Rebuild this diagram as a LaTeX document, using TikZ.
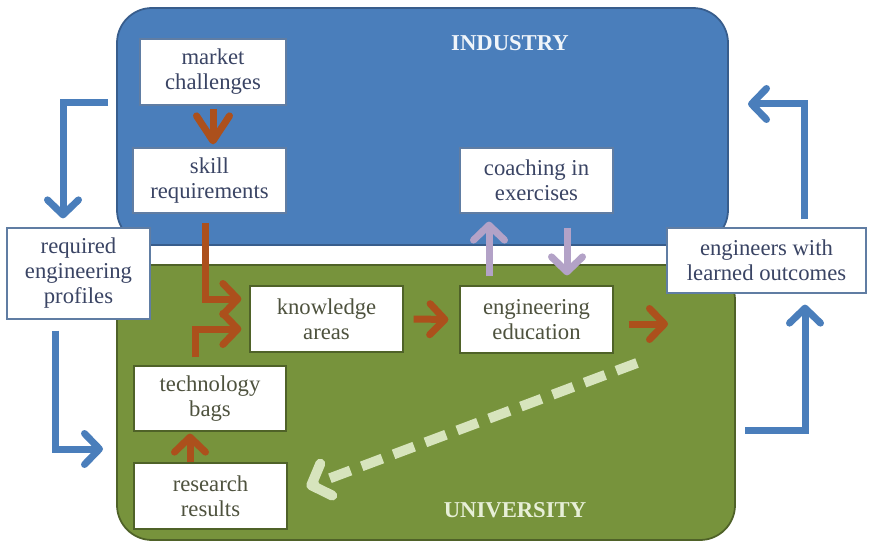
\documentclass[tikz,border=0pt]{standalone}
\usepackage{fontspec}
\setmainfont{Liberation Serif}
\usepackage{tikz}
\usetikzlibrary{arrows.meta,calc}
\definecolor{indblue}{RGB}{74,126,187}
\definecolor{indedge}{RGB}{56,93,140}
\definecolor{unigreen}{RGB}{119,147,60}
\definecolor{uniedge}{RGB}{79,98,40}
\definecolor{flowbrown}{RGB}{172,80,28}
\definecolor{lilac}{RGB}{179,162,199}
\definecolor{palegreen}{RGB}{215,228,189}
\definecolor{bluetext}{RGB}{58,68,100}
\definecolor{greentext}{RGB}{78,82,62}

\tikzset{
  card/.style={draw=#1,fill=white,line width=0.7pt,align=center,inner sep=0pt,
    font=\fontsize{12.9}{14.2}\selectfont},
  indcard/.style={card=indedge!80,text=bluetext},
  unicard/.style={card=uniedge,text=greentext},
  barb/.style={line width=0.14cm,-{Straight Barb[round,length=0.3cm,width=0.62cm]}},
  brownflow/.style={barb,draw=flowbrown},
  blueflow/.style={barb,draw=indblue},
  lilacflow/.style={barb,draw=lilac},
}

\begin{document}
\begin{tikzpicture}
\useasboundingbox (0,0) rectangle (17.38,-10.86);
% Sectors
\draw[fill=indblue,draw=indedge,line width=1pt,rounded corners=0.7cm] (2.34,-0.16) rectangle (14.56,-4.90);
\draw[fill=unigreen,draw=uniedge,line width=1pt,rounded corners=0.7cm] (2.34,-5.30) rectangle (14.70,-10.80);
\node[font=\fontsize{12.9}{14}\selectfont\bfseries,text=white!92!indblue] (industry) at (10.2,-0.86) {INDUSTRY};
\node[font=\fontsize{12.9}{14}\selectfont\bfseries,text=palegreen!60!white] (university) at (10.3,-10.2) {UNIVERSITY};
% Boxes
\node[indcard,minimum width=2.92cm,minimum height=1.32cm] (market) at (4.26,-1.44) {market\\challenges};
\node[indcard,minimum width=3.06cm,minimum height=1.30cm] (skill) at (4.19,-3.61) {skill\\requirements};
\node[indcard,minimum width=3.06cm,minimum height=1.30cm] (coach) at (10.73,-3.61) {coaching in\\exercises};
\node[indcard,minimum width=3.98cm,minimum height=1.30cm] (eng) at (15.33,-5.21) {engineers with\\learned outcomes};
\node[indcard,minimum width=2.86cm,minimum height=1.82cm] (prof) at (1.57,-5.47) {required\\engineering\\profiles};
\node[unicard,minimum width=3.06cm,minimum height=1.32cm] (know) at (6.53,-6.38) {knowledge\\areas};
\node[unicard,minimum width=3.06cm,minimum height=1.34cm] (edu) at (10.73,-6.39) {engineering\\education};
\node[unicard,minimum width=3.04cm,minimum height=1.30cm] (tech) at (4.20,-7.97) {technology\\bags};
\node[unicard,minimum width=3.06cm,minimum height=1.32cm] (res) at (4.21,-9.92) {research\\results};
% Free ends
\coordinate (profin) at (2.16,-2.06);
\coordinate (uniin) at (2.06,-8.98);
\coordinate (uniout) at (14.90,-8.60);
\coordinate (indin) at (14.96,-2.08);
\coordinate (eduout) at (13.36,-6.48);
\coordinate (backstart) at (12.74,-7.26);
% Flows inside
\draw[brownflow,-{Straight Barb[round,length=0.5cm,width=0.66cm]}] ([yshift=-0.06cm]market.south) -- ([yshift=0.06cm]market.south |- skill.north);
\draw[brownflow] ([xshift=-0.09cm,yshift=-0.18cm]skill.south) |- ([xshift=-0.16cm,yshift=0.4cm]know.west);
\draw[brownflow] ([xshift=-0.3cm,yshift=0.16cm]tech.north) |- ([xshift=-0.16cm,yshift=-0.2cm]know.west);
\draw[brownflow] ([xshift=0.2cm]know.east) -- ([xshift=-0.22cm]edu.west);
\draw[brownflow] ([xshift=0.3cm,yshift=-0.09cm]edu.east) -- (eduout);
\draw[brownflow] ([xshift=-0.41cm]res.north) -- ([xshift=-0.41cm,yshift=-0.04cm]res.north |- tech.south);
\draw[lilacflow] ([xshift=-0.95cm,yshift=0.18cm]edu.north) -- ([xshift=-0.95cm,yshift=-0.16cm]coach.south);
\draw[lilacflow] ([xshift=0.61cm,yshift=-0.28cm]coach.south) -- ([xshift=0.61cm,yshift=0.2cm]edu.north);
% Loop between the sectors
\draw[blueflow] (profin) -| ([xshift=-0.31cm,yshift=0.18cm]prof.north);
\draw[blueflow] ([xshift=-0.47cm,yshift=-0.22cm]prof.south) |- (uniin);
\draw[blueflow] (uniout) -| ([xshift=0.77cm,yshift=-0.22cm]eng.south);
\draw[blueflow] ([xshift=0.75cm,yshift=0.16cm]eng.north) |- (indin);
% Research feedback
\draw[palegreen,line width=0.2cm,dash pattern=on 0.44cm off 0.24cm,
  -{Straight Barb[round,length=0.32cm,width=0.68cm]}] (backstart) -- ([xshift=0.38cm,yshift=0.18cm]res.east);
\end{tikzpicture}
\end{document}
